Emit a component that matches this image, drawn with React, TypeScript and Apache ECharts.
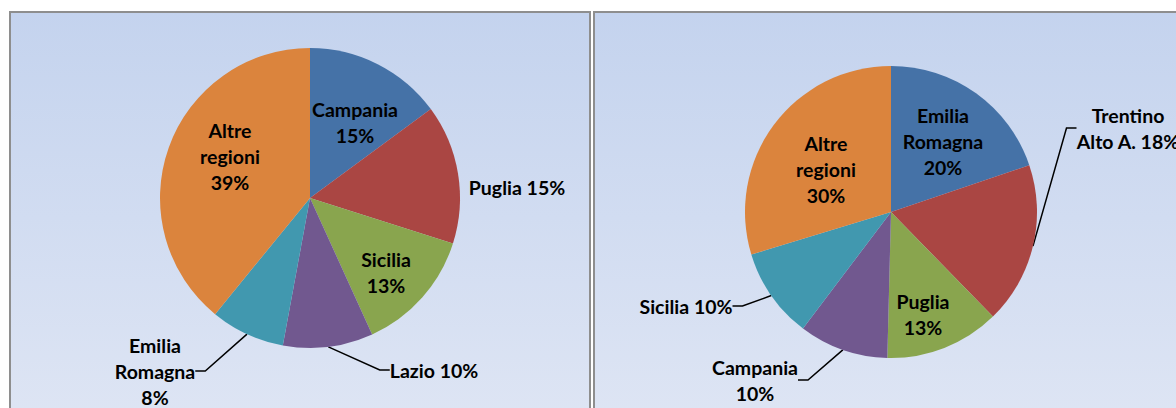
import React, { useEffect, useRef } from "react";
import * as echarts from "echarts";

// ---- data ----
const leftCategories = ["Campania", "Puglia", "Sicilia", "Lazio", "Emilia\nRomagna", "Altre\nregioni"];
const leftValues = [14.9, 15.0, 13.3, 9.7, 8.0, 39.1];
const leftBreak = [true, false, true, false, true, true];

const rightCategories = ["Emilia\nRomagna", "Trentino\nAlto A.", "Puglia", "Campania", "Sicilia", "Altre\nregioni"];
const rightValues = [19.8, 17.9, 12.7, 9.9, 10.0, 29.7];
const rightBreak = [true, false, true, true, false, true];

const colors = ["#4572A7", "#AA4643", "#89A54E", "#71588F", "#4198AF", "#DB843D"];

// ---- label layout (positions, not data) ----
const leftInside = [true, true, true, false, false, true];
const leftLabelPos = [[355, 122], [517, 187], [386, 272], [434, 370], [155, 371], [230, 156]];
const rightInside = [true, false, true, false, false, true];
const rightLabelPos = [[943, 141], [1128, 128], [923, 314], [755, 380], [686, 306], [826, 169]];

const FONT = "Lato, 'Open Sans', sans-serif";

function buildSeries(
  cats: string[],
  vals: number[],
  brk: boolean[],
  noLine: boolean[],
  pos: number[][],
  center: number[],
  radius: number
) {
  return {
    type: "pie",
    center,
    radius,
    startAngle: 90,
    clockwise: true,
    avoidLabelOverlap: false,
    itemStyle: { borderWidth: 0 },
    label: {
      show: true,
      color: "#000",
      fontFamily: FONT,
      fontWeight: "bold",
      fontSize: 19.5,
      lineHeight: 26,
      align: "center",
      formatter: (p: any) => {
        const sep = brk[p.dataIndex] ? "\n" : " ";
        return p.name + sep + Math.round(p.value) + "%";
      },
    },
    labelLine: {
      show: true,
      length: 15,
      length2: 10,
      lineStyle: { color: "#000", width: 1.5 },
    },
    labelLayout: (params: any) => {
      const i = params.dataIndex;
      return {
        x: pos[i][0],
        y: pos[i][1],
        align: "center",
        verticalAlign: "middle",
        hideOverlap: false,
      };
    },
    data: cats.map((name, i) => ({
      name,
      value: vals[i],
      itemStyle: { color: colors[i] },
      labelLine: { show: !noLine[i] },
    })),
  };
}

export default function App() {
  const ref = useRef<HTMLDivElement>(null);
  useEffect(() => {
    if (!ref.current) return;
    const chart = echarts.init(ref.current, null, { renderer: "svg" });
    const grad = {
      type: "linear",
      x: 0,
      y: 0,
      x2: 0,
      y2: 1,
      colorStops: [
        { offset: 0, color: "#C4D3EE" },
        { offset: 1, color: "#DEE5F4" },
      ],
    };
    chart.setOption({
      animation: false,
      backgroundColor: "#ffffff",
      graphic: [
        {
          type: "rect",
          z: -10,
          shape: { x: 10, y: 12, width: 580, height: 410 },
          style: { fill: grad, stroke: "#8E8E8E", lineWidth: 2 },
        },
        {
          type: "rect",
          z: -10,
          shape: { x: 594, y: 12, width: 600, height: 410 },
          style: { fill: grad, stroke: "#8E8E8E", lineWidth: 2 },
        },
      ],
      series: [
        buildSeries(leftCategories, leftValues, leftBreak, leftInside, leftLabelPos, [310, 198], 150),
        buildSeries(rightCategories, rightValues, rightBreak, rightInside, rightLabelPos, [891, 212], 146),
      ],
    });
    return () => chart.dispose();
  }, []);
  return (
    <div
      ref={ref}
      style={{ position: "absolute", left: 0, top: 0, width: 1176, height: 408 }}
    />
  );
}
